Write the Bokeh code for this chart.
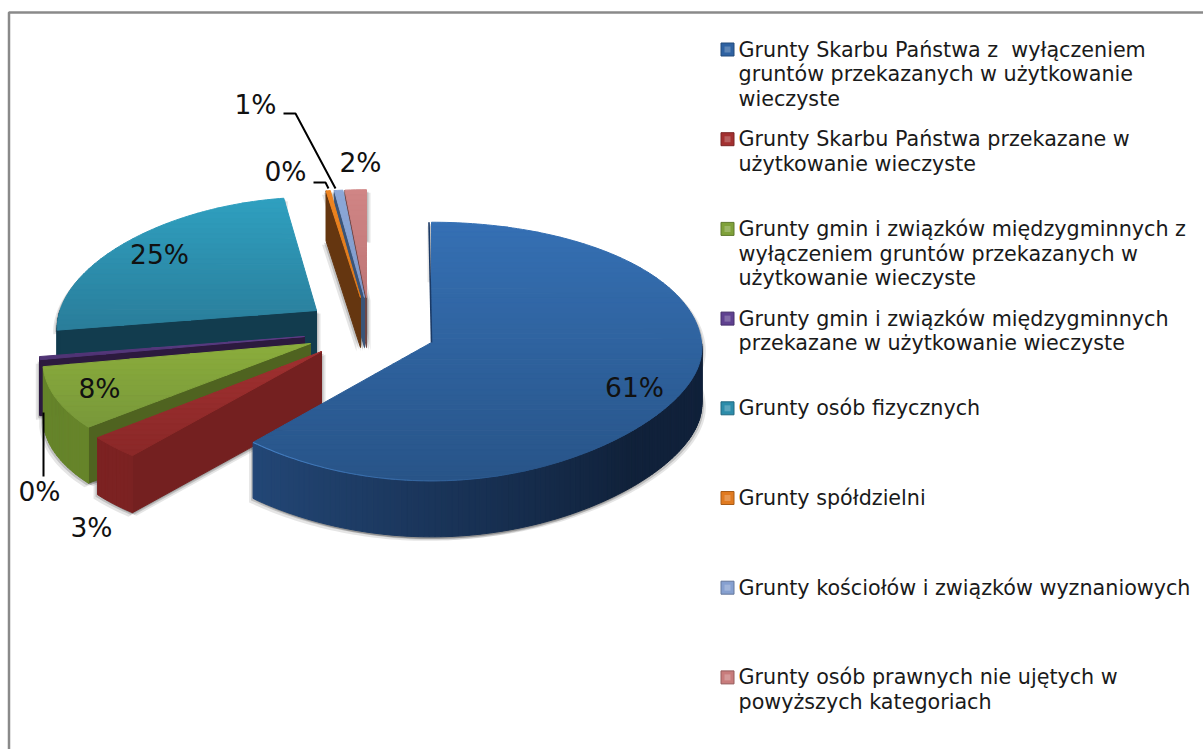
import math
from bokeh.plotting import figure
from bokeh.embed import file_html
from bokeh.resources import INLINE
from bokeh.core.properties import value

# ---- data ----
categories = [
    ["Grunty Skarbu Państwa z\u00a0\u00a0wyłączeniem", "gruntów przekazanych w użytkowanie", "wieczyste"],
    ["Grunty Skarbu Państwa przekazane w", "użytkowanie wieczyste"],
    ["Grunty gmin i związków międzygminnych z", "wyłączeniem gruntów przekazanych w", "użytkowanie wieczyste"],
    ["Grunty gmin i związków międzygminnych", "przekazane w użytkowanie wieczyste"],
    ["Grunty osób fizycznych"],
    ["Grunty spółdzielni"],
    ["Grunty kościołów i związków wyznaniowych"],
    ["Grunty osób prawnych nie ujętych w", "powyższych kategoriach"],
]
shares = [61.1, 2.9, 8.2, 0.4, 25.2, 0.3, 0.6, 1.5]
pct_labels = ["61%", "3%", "8%", "0%", "25%", "0%", "1%", "2%"]

# ---- styling / layout ----
top_from = ["#3570B4", "#A03030", "#8BAD3C", "#5E3F88", "#2FA0C0", "#EE8420", "#8CA8D8", "#D08585"]
top_to = ["#285488", "#8A2828", "#78983A", "#4E3272", "#2A7D9A", "#DD7A1C", "#7F9ACB", "#BE7676"]
rim_from = ["#24497A", "#7C2222", "#66842A", "#2E1A40", "#123C4E", "#6B3A10", "#3D5A80", "#7A4A4A"]
rim_to = ["#10213A", "#701F1F", "#52681F", "#2E1A40", "#123C4E", "#6B3A10", "#3D5A80", "#7A4A4A"]
face = ["#1B3A66", "#742020", "#4F6320", "#2C1A3E", "#123C4E", "#653610", "#3A5478", "#6E4646"]
swatch = ["#2F62A2", "#A33030", "#7FA13A", "#5F4190", "#2C8CAA", "#E07A20", "#86A0D0", "#C87C7C"]

apex_x = [431, 321, 310, 304, 316, 360, 364, 366]
apex_y = [342, 351, 343, 336, 310, 297, 297, 297]
depth = [56, 57, 56, 56, 54, 50, 50, 50]
scale_x = [1.0, 1.0, 0.98, 0.97, 0.95, 1.0, 1.0, 1.0]
scale_y = [1.06, 1.05, 1.02, 1.02, 1.0, 0.95, 0.95, 0.95]
persp_x = [0.05, 0.13, 0.15, 0.15, 0.15, 0.15, 0.15, 0.15]
cubic_y = [0.13, 0, 0, 0, 0, 0, 0, 0]
RX, RY, KY = 270, 122, 0.07
paint_order = [7, 6, 5, 4, 3, 2, 1, 0]

label_x = [634, 91, 99, 39, 159, 285, 255, 360]
label_y = [387, 527, 388, 491, 254, 171, 104, 162]
leaders = [
    ([283, 295, 335], [113, 113, 188]),
    ([313, 325, 328], [182, 182, 188]),
    ([43, 43], [412, 476]),
]
LEG_X, LEG_Y0, LEG_STEP, LEG_LINE = 738, 49, 89.7, 24.6


def mix(c1, c2, t):
    a = [int(c1[i:i + 2], 16) for i in (1, 3, 5)]
    b = [int(c2[i:i + 2], 16) for i in (1, 3, 5)]
    return "#%02x%02x%02x" % tuple(round(p + (q - p) * t) for p, q in zip(a, b))


def rim_pt(i, t):
    v = -math.cos(t)
    x = apex_x[i] + RX * scale_x[i] * math.sin(t) * (1 + persp_x[i] * v)
    e = cubic_y[i] if v > 0 else 0
    y = apex_y[i] + RY * scale_y[i] * (v * (1 - e) + KY * v * v + e * v ** 3)
    return x, y


def clip_band(poly, y0, y1):
    def clip(pts, keep, cross):
        out = []
        for j, p in enumerate(pts):
            q = pts[(j + 1) % len(pts)]
            if keep(p):
                out.append(p)
            if keep(p) != keep(q):
                s = (cross - p[1]) / (q[1] - p[1])
                out.append((p[0] + s * (q[0] - p[0]), cross))
        return out
    r = clip(poly, lambda p: p[1] >= y0, y0)
    if r:
        r = clip(r, lambda p: p[1] <= y1, y1)
    return r


p = figure(width=1203, height=749, x_range=(0, 1203), y_range=(749, 0),
           output_backend="svg", toolbar_location=None, min_border=0,
           outline_line_color=None, background_fill_color="white")
p.axis.visible = False
p.grid.visible = False

# frame
p.line([8.5, 8.5, 1203], [749, 12, 12], line_color="#8a8a8a", line_width=2.5)

total = sum(shares)
starts, c = [], 0.0
for s in shares:
    starts.append(c / total * 2 * math.pi)
    c += s
ends = starts[1:] + [2 * math.pi]


def rim_of(i):
    t0, t1 = starts[i], ends[i]
    n = max(3, int((t1 - t0) / 0.02))
    return n, t0, t1, [rim_pt(i, t0 + (t1 - t0) * k / n) for k in range(n + 1)]


# soft shadows first, beneath every slice
for i in paint_order:
    n, t0, t1, rim = rim_of(i)
    apex = (apex_x[i], apex_y[i])
    d = depth[i]
    sil = [apex] + rim + [(q[0], q[1] + d) for q in rim[::-1]] + [(apex[0], apex[1] + d)]
    for dx, dy, al in ((-4, 4, 0.10), (4, 3, 0.10), (-2, 2, 0.16), (2, 2, 0.16)):
        p.patch([q[0] + dx for q in sil], [q[1] + dy for q in sil],
                fill_color="#000000", fill_alpha=al, line_color=None)

for i in paint_order:
    xs, ys, cols = [], [], []

    def add(poly, col):
        xs.append([q[0] for q in poly])
        ys.append([q[1] for q in poly])
        cols.append(col)

    n, t0, t1, rim = rim_of(i)
    apex = (apex_x[i], apex_y[i])
    d = depth[i]
    for edge, tt, sign in ((rim[0], t0, -1), (rim[-1], t1, 1)):
        if sign * math.sin(tt) > 1e-6:
            add([apex, edge, (edge[0], edge[1] + d), (apex[0], apex[1] + d)], face[i])
    for k in range(n):
        tm = t0 + (t1 - t0) * (k + 0.5) / n
        if -math.cos(tm) > 0:
            f = max(0.0, min(1.0, (math.pi * 1.25 - tm) / (math.pi * 0.5)))
            a, b = rim[k], rim[k + 1]
            add([a, b, (b[0], b[1] + d), (a[0], a[1] + d)], mix(rim_from[i], rim_to[i], f))
    poly = [apex] + rim
    lo, hi = min(q[1] for q in poly), max(q[1] for q in poly)
    bands = max(2, int((hi - lo) / 5))
    for b in range(bands):
        y0 = lo + (hi - lo) * b / bands
        y1 = lo + (hi - lo) * (b + 1) / bands
        piece = clip_band(poly, y0, y1)
        if len(piece) >= 3:
            add(piece, mix(top_from[i], top_to[i], (b + 0.5) / bands))
    p.patches(xs, ys, fill_color=cols, line_color=cols, line_width=1)
    if i == 0:
        # the thin inner edge at twelve o'clock and the lit front lip, fading out
        p.line([rim[0][0] - 2.5, apex[0]], [rim[0][1], apex[1]], line_color=face[0], line_width=1.6)
        lip = rim[int(len(rim) * 0.72):]
        seg_x = [[lip[k][0], lip[k + 1][0]] for k in range(len(lip) - 1)]
        seg_y = [[lip[k][1], lip[k + 1][1]] for k in range(len(lip) - 1)]
        seg_a = [0.9 * (k + 1) / len(seg_x) for k in range(len(seg_x))]
        p.multi_line(seg_x, seg_y, line_color="#4A86CC", line_width=1.1, line_alpha=seg_a)

p.text(label_x, label_y, text=pct_labels, text_font=value("DejaVu Sans"), text_font_size="26.5px",
       text_align="center", text_baseline="middle", text_color="#111111")
for lx, ly in leaders:
    p.line(lx, ly, line_color="#000000", line_width=2)

tx, ty, tt = [], [], []
for i, lines in enumerate(categories):
    y0 = LEG_Y0 + i * LEG_STEP
    p.scatter([727], [y0], marker="square", size=13, fill_color=swatch[i],
              line_color=mix(swatch[i], "#000000", 0.25))
    p.scatter([727], [y0], marker="square", size=6,
              fill_color=mix(swatch[i], "#ffffff", 0.22), line_color=None)
    for j, s in enumerate(lines):
        tx.append(LEG_X)
        ty.append(y0 + j * LEG_LINE)
        tt.append(s)
p.text(tx, ty, text=tt, text_font=value("DejaVu Sans"), text_font_size="20.7px",
       text_align="left", text_baseline="middle", text_color="#1a1a1a")

open("out.html", "w").write(file_html(p, INLINE))
